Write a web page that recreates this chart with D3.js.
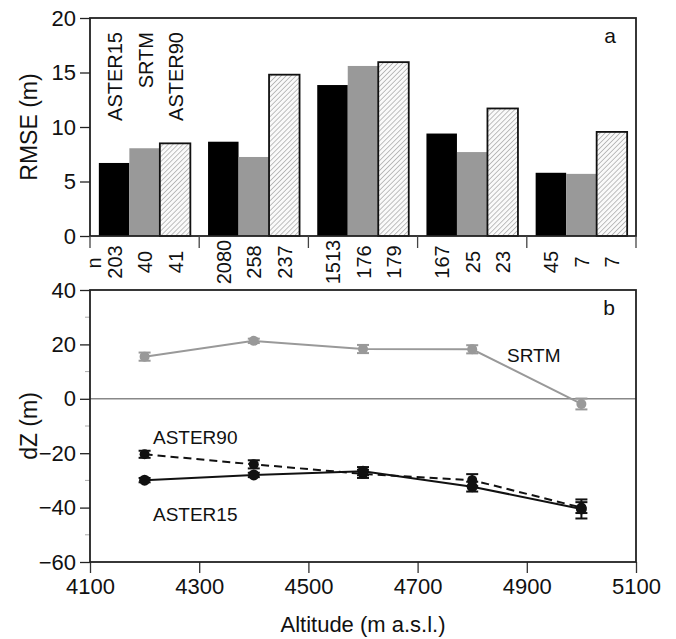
<!DOCTYPE html>
<html>
<head>
<meta charset="utf-8">
<script src="https://cdn.jsdelivr.net/npm/d3@7"></script>
<style>
	body { margin: 0; background: #fff; }
	text { font-family: "Liberation Sans", Arial, sans-serif; fill: #111; }
</style>
</head>
<body>
<div id="chart"></div>
<script>
'use strict'

// panel a : RMSE par tranche d'altitude
var altitudes = [4200, 4400, 4600, 4800, 5000];
var seriesNames = ["ASTER15", "SRTM", "ASTER90"];
var rmseA15 = [6.7, 8.65, 13.85, 9.4, 5.8];
var rmseSRTM = [8.05, 7.25, 15.6, 7.7, 5.7];
var rmseA90 = [8.5, 14.8, 15.95, 11.7, 9.55];
var nA15 = [203, 2080, 1513, 167, 45];
var nSRTM = [40, 258, 176, 25, 7];
var nA90 = [41, 237, 179, 23, 7];
var rmseTicks = [0, 5, 10, 15, 20];

// panel b : dZ moyen +/- erreur
var srtmMean = [15.5, 21.3, 18.3, 18.2, -1.9];
var srtmErr = [1.5, 0.8, 1.5, 1.5, 2.0];
var a90Mean = [-20.4, -24.1, -27.6, -29.9, -40.0];
var a90Err = [1.3, 1.5, 1.5, 2.2, 2.0];
var a15Mean = [-29.9, -28.0, -26.6, -32.3, -40.5];
var a15Err = [0.8, 0.8, 1.5, 1.8, 3.5];
var dzTicks = [40, 20, 0, -20, -40, -60];
var dzMinor = [30, 10, -10, -30, -50];
var altTicks = [4100, 4300, 4500, 4700, 4900, 5100];

var width = 676, height = 639;
var left = 90, right = 636;

var svg = d3.select("#chart").append("svg")
	.attr("width", width)
	.attr("height", height);

var defs = svg.append("defs");
var pat = defs.append("pattern")
	.attr("id", "hatch")
	.attr("patternUnits", "userSpaceOnUse")
	.attr("width", 3.5)
	.attr("height", 3.5)
	.attr("patternTransform", "rotate(45)");
pat.append("rect").attr("width", 3.5).attr("height", 3.5).attr("fill", "#fafafa");
pat.append("line")
	.attr("x1", 0).attr("y1", 0).attr("x2", 0).attr("y2", 3.5)
	.attr("stroke", "#a5a5a5").attr("stroke-width", 1.4);

// ---------- panel a ----------
var topA = 18, botA = 236;
var yA = d3.scaleLinear().domain([0, 20]).range([botA, topA]);
var xGroup = d3.scaleBand().domain(altitudes).range([left, right]).padding(0);
var xSeries = d3.scaleBand().domain(seriesNames).range([0, xGroup.bandwidth()])
	.paddingInner(0).paddingOuter(0.29);

var barData = [];
altitudes.forEach(function(a, i){
	barData.push({alt: a, s: "ASTER15", v: rmseA15[i], n: nA15[i]});
	barData.push({alt: a, s: "SRTM", v: rmseSRTM[i], n: nSRTM[i]});
	barData.push({alt: a, s: "ASTER90", v: rmseA90[i], n: nA90[i]});
});

function barFill(s){
	if(s == "ASTER15") return "#000";
	if(s == "SRTM") return "#999";
	return "url(#hatch)";
}

var gA = svg.append("g");
gA.selectAll("rect.bar")
	.data(barData)
	.enter()
	.append("rect")
		.attr("class", "bar")
		.attr("x", function(d){ return xGroup(d.alt) + xSeries(d.s); })
		.attr("y", function(d){ return yA(d.v); })
		.attr("width", xSeries.bandwidth())
		.attr("height", function(d){ return yA(0) - yA(d.v); })
		.attr("fill", function(d){ return barFill(d.s); })
		.attr("stroke", function(d){ return d.s == "ASTER90" ? "#111" : "none"; })
		.attr("stroke-width", 1.8);

// cadre
gA.append("rect")
	.attr("x", left).attr("y", topA)
	.attr("width", right - left).attr("height", botA - topA)
	.attr("fill", "none").attr("stroke", "#222").attr("stroke-width", 1.8);

// axe y
var axA = gA.append("g").attr("transform", "translate(" + left + ",0)")
	.call(d3.axisLeft(yA).tickValues(rmseTicks).tickSize(10).tickPadding(4));
axA.select(".domain").remove();
axA.selectAll("line").attr("stroke", "#222").attr("stroke-width", 1.3);
axA.selectAll("text").style("font-size", "22px").attr("fill", "#111");

// séparateurs de groupes
var seps = altitudes.map(function(a){ return xGroup(a); }).concat([right]);
gA.selectAll("line.sep")
	.data(seps)
	.enter()
	.append("line")
		.attr("x1", function(d){ return d; })
		.attr("x2", function(d){ return d; })
		.attr("y1", botA)
		.attr("y2", botA + 12)
		.attr("stroke", "#444")
		.attr("stroke-width", 1.3);

// n
gA.selectAll("text.n")
	.data(barData)
	.enter()
	.append("text")
		.attr("transform", function(d){
			var x = xGroup(d.alt) + xSeries(d.s) + xSeries.bandwidth() / 2 + 7.5;
			return "translate(" + x + ",262) rotate(-90)";
		})
		.attr("text-anchor", "middle")
		.style("font-size", "20px")
		.text(function(d){ return d.n; });

gA.append("text")
	.attr("transform", "translate(101,263) rotate(-90)")
	.attr("text-anchor", "middle")
	.style("font-size", "20px")
	.text("n");

// noms des séries
gA.selectAll("text.sname")
	.data(seriesNames)
	.enter()
	.append("text")
		.attr("transform", function(d){
			var x = xGroup(altitudes[0]) + xSeries(d) + xSeries.bandwidth() / 2 + 8;
			return "translate(" + x + ",32) rotate(-90)";
		})
		.attr("text-anchor", "end")
		.style("font-size", "20px")
		.text(function(d){ return d; });

gA.append("text")
	.attr("x", 610).attr("y", 43)
	.attr("text-anchor", "middle")
	.style("font-size", "21px")
	.text("a");

gA.append("text")
	.attr("transform", "translate(37," + ((topA + botA) / 2) + ") rotate(-90)")
	.attr("text-anchor", "middle")
	.style("font-size", "23px")
	.text("RMSE (m)");

// ---------- panel b ----------
var topB = 290, botB = 562;
var yB = d3.scaleLinear().domain([-60, 40]).range([botB, topB]);
var xB = d3.scaleLinear().domain([4100, 5100]).range([left, right]);
var gB = svg.append("g");

gB.append("line")
	.attr("x1", left).attr("x2", right)
	.attr("y1", yB(0)).attr("y2", yB(0))
	.attr("stroke", "#888").attr("stroke-width", 1.5);

var axBy = gB.append("g").attr("transform", "translate(" + left + ",0)")
	.call(d3.axisLeft(yB).tickValues(dzTicks).tickSize(10).tickPadding(4));
axBy.select(".domain").remove();
axBy.selectAll("line").attr("stroke", "#222").attr("stroke-width", 1.3);
axBy.selectAll("text").style("font-size", "22px").attr("fill", "#111");

gB.selectAll("line.minor")
	.data(dzMinor)
	.enter()
	.append("line")
		.attr("x1", left - 5).attr("x2", left)
		.attr("y1", function(d){ return yB(d); })
		.attr("y2", function(d){ return yB(d); })
		.attr("stroke", "#aaa").attr("stroke-width", 1);

var axBx = gB.append("g").attr("transform", "translate(0," + botB + ")")
	.call(d3.axisBottom(xB).tickValues(altTicks).tickFormat(d3.format("d")).tickSize(11).tickPadding(5));
axBx.select(".domain").remove();
axBx.selectAll("line").attr("stroke", "#333").attr("stroke-width", 1.3);
axBx.selectAll("text").style("font-size", "22px").attr("fill", "#111");

function drawSeries(mean, err, color, dash, r){
	var pts = altitudes.map(function(a, i){ return {x: a, y: mean[i], e: err[i]}; });
	var line = d3.line().x(function(d){ return xB(d.x); }).y(function(d){ return yB(d.y); });
	var g = gB.append("g");
	g.append("path")
		.datum(pts)
		.attr("d", line)
		.attr("fill", "none")
		.attr("stroke", color)
		.attr("stroke-width", 2)
		.attr("stroke-dasharray", dash);
	g.selectAll("line.err")
		.data(pts)
		.enter()
		.append("line")
			.attr("x1", function(d){ return xB(d.x); })
			.attr("x2", function(d){ return xB(d.x); })
			.attr("y1", function(d){ return yB(d.y - d.e); })
			.attr("y2", function(d){ return yB(d.y + d.e); })
			.attr("stroke", color).attr("stroke-width", 2);
	[-1, 1].forEach(function(sgn){
		g.selectAll("line.cap" + sgn)
			.data(pts)
			.enter()
			.append("line")
				.attr("x1", function(d){ return xB(d.x) - 6; })
				.attr("x2", function(d){ return xB(d.x) + 6; })
				.attr("y1", function(d){ return yB(d.y + sgn * d.e); })
				.attr("y2", function(d){ return yB(d.y + sgn * d.e); })
				.attr("stroke", color).attr("stroke-width", 2);
	});
	g.selectAll("circle")
		.data(pts)
		.enter()
		.append("circle")
			.attr("cx", function(d){ return xB(d.x); })
			.attr("cy", function(d){ return yB(d.y); })
			.attr("r", r)
			.attr("fill", color);
}

drawSeries(srtmMean, srtmErr, "#999", null, 5);
drawSeries(a90Mean, a90Err, "#111", "8,5", 5);
drawSeries(a15Mean, a15Err, "#111", null, 5.5);

gB.append("rect")
	.attr("x", left).attr("y", topB)
	.attr("width", right - left).attr("height", botB - topB)
	.attr("fill", "none").attr("stroke", "#222").attr("stroke-width", 1.8);

gB.append("text").attr("x", 153).attr("y", 444).style("font-size", "19px").text("ASTER90");
gB.append("text").attr("x", 153).attr("y", 521).style("font-size", "19px").text("ASTER15");
gB.append("text").attr("x", 507).attr("y", 362).style("font-size", "19px").text("SRTM");

gB.append("text")
	.attr("x", 609).attr("y", 315)
	.attr("text-anchor", "middle")
	.style("font-size", "21px")
	.text("b");

gB.append("text")
	.attr("transform", "translate(37," + ((topB + botB) / 2) + ") rotate(-90)")
	.attr("text-anchor", "middle")
	.style("font-size", "23px")
	.text("dZ (m)");

gB.append("text")
	.attr("x", (left + right) / 2).attr("y", 632)
	.attr("text-anchor", "middle")
	.style("font-size", "22px")
	.text("Altitude (m a.s.l.)");
</script>
</body>
</html>
